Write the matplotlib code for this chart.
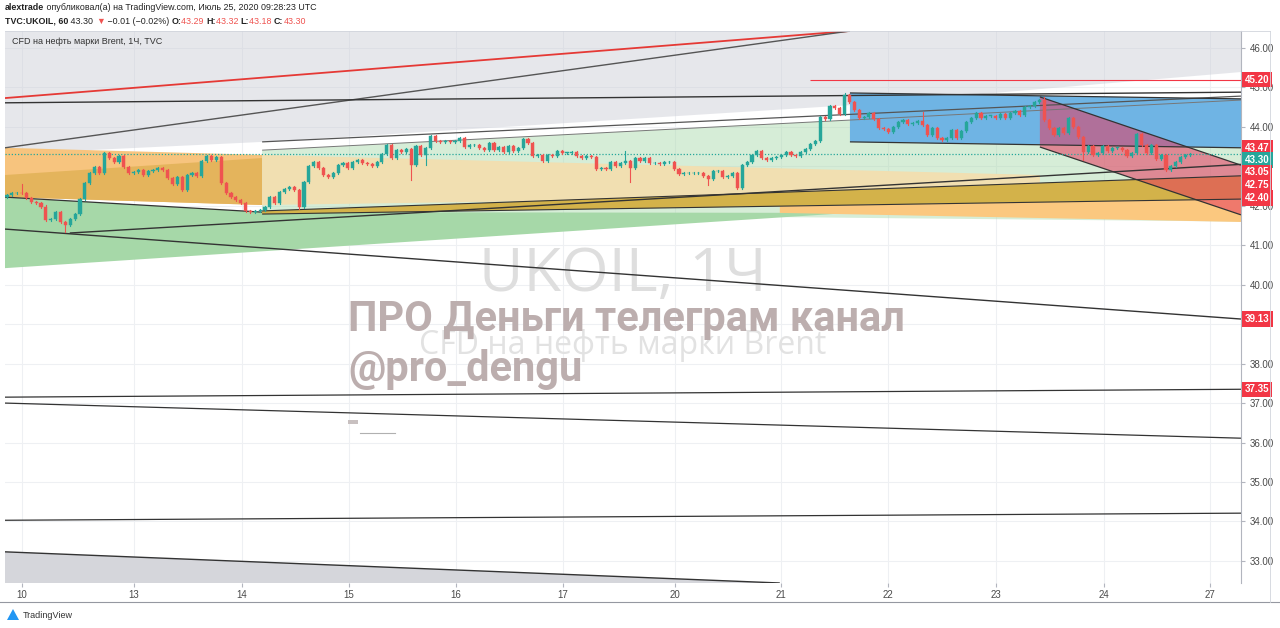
import matplotlib
matplotlib.use("Agg")
import matplotlib.pyplot as plt
from matplotlib.patches import Polygon, Rectangle

# ---------------- data ----------------
closes = [
    42.27, 42.32, 42.33, 42.32, 42.20, 42.10, 42.07, 41.98, 41.64, 41.67,
    41.84, 41.59, 41.51, 41.67, 41.79, 42.17, 42.58, 42.83, 42.98, 42.83,
    43.34, 43.21, 43.11, 43.26, 42.98, 42.83, 42.86, 42.91, 42.78, 42.88,
    42.91, 42.96, 42.91, 42.70, 42.55, 42.73, 42.40, 42.78, 42.83, 42.76,
    43.14, 43.26, 43.16, 43.24, 42.58, 42.32, 42.22, 42.15, 42.07, 41.87,
    41.84, 41.87, 41.89, 41.97, 42.22, 42.07, 42.35, 42.43, 42.48, 42.40,
    41.97, 42.60, 43.01, 43.11, 42.96, 42.78, 42.73, 42.83, 43.03, 43.08,
    42.96, 43.11, 43.16, 43.08, 43.06, 43.01, 43.11, 43.31, 43.54, 43.21,
    43.41, 43.36, 43.44, 43.03, 43.52, 43.29, 43.47, 43.77, 43.64, 43.62,
    43.64, 43.62, 43.64, 43.72, 43.49, 43.54, 43.54, 43.47, 43.41, 43.59,
    43.41, 43.49, 43.36, 43.52, 43.39, 43.47, 43.69, 43.59, 43.26, 43.29,
    43.14, 43.29, 43.26, 43.39, 43.34, 43.34, 43.36, 43.26, 43.21, 43.26,
    43.24, 42.93, 42.96, 42.93, 43.11, 43.01, 43.08, 43.14, 42.96, 43.21,
    43.14, 43.21, 43.08, 43.08, 43.06, 43.11, 43.11, 42.93, 42.81, 42.83,
    42.83, 42.83, 42.83, 42.76, 42.68, 42.88, 42.88, 42.73, 42.76, 42.83,
    42.45, 43.03, 43.11, 43.29, 43.39, 43.21, 43.16, 43.21, 43.24, 43.29,
    43.36, 43.29, 43.26, 43.36, 43.44, 43.57, 43.64, 44.25, 44.20, 44.53,
    44.48, 44.33, 44.81, 44.63, 44.43, 44.23, 44.25, 44.35, 44.20, 43.97,
    43.95, 43.87, 44.00, 44.12, 44.17, 44.07, 44.10, 44.15, 44.05, 43.79,
    43.97, 43.72, 43.67, 43.72, 43.92, 43.72, 43.90, 44.12, 44.23, 44.35,
    44.23, 44.28, 44.28, 44.23, 44.33, 44.23, 44.35, 44.40, 44.30, 44.50,
    44.53, 44.63, 44.68, 44.17, 43.97, 43.79, 43.97, 43.85, 44.23, 44.00,
    43.74, 43.36, 43.52, 43.29, 43.34, 43.52, 43.39, 43.47, 43.47, 43.41,
    43.26, 43.34, 43.82, 43.54, 43.34, 43.54, 43.19, 43.29, 42.91, 43.01,
    43.11, 43.24, 43.29, 43.30,
]
first_open = 42.22
# notable wick extremes: bar index -> (high, low)
wick_extremes = {
    3: (42.55, None), 11: (None, 41.56), 12: (None, 41.34), 60: (None, 41.92),
    83: (None, 42.65), 86: (None, 43.03), 127: (43.39, None), 128: (None, 42.60),
    144: (None, 42.53), 150: (None, 42.43), 172: (44.86, None), 188: (44.38, None),
    213: (44.76, None), 221: (None, 43.16),
}

day_labels = ["10", "13", "14", "15", "16", "17", "20", "21", "22", "23", "24", "27"]
day_bar_positions = [3.1, 26.1, 48.3, 70.2, 92.2, 114.2, 137.2, 158.9, 180.9, 203.1, 225.3, 247.0]

price_ticks = [33, 34, 35, 36, 37, 38, 39, 40, 41, 42, 43, 44, 45, 46]
hidden_tick_labels = [43, 39]
price_badges = [(45.20, "red"), (43.47, "red"), (43.30, "teal"), (43.05, "red"),
                (42.75, "red"), (42.40, "red"), (39.13, "red"), (37.35, "red")]
badge_offsets = {43.05: -0.20, 42.75: -0.22, 42.40: -0.20, 43.30: -0.14}

# drawings: (bar, price) vertices; fills are drawn with the given alpha
fills = [
    ("#c9cbd4", 0.45, [(-0.4, 46.43), (253.4, 46.43), (253.4, 45.39), (173.1, 44.55), (56.1, 43.64), (-0.4, 43.31)]),
    ("#a6d8a8", 0.45, [(52.4, 43.41), (253.4, 44.68), (253.4, 41.60), (52.4, 41.84)]),
    ("#a6d8a8", 1.0, [(-0.4, 42.22), (52.4, 41.84), (173.1, 41.82), (-0.4, 40.42)]),
    ("#f7c47e", 1.0, [(-0.4, 43.47), (52.4, 43.29), (52.4, 42.02), (-0.4, 42.22)]),
    ("#e4b45c", 1.0, [(-0.4, 42.78), (52.4, 43.21), (52.4, 42.02), (-0.4, 42.22)]),
    ("#f1dfb1", 1.0, [(52.4, 43.29), (212.1, 42.78), (212.1, 42.30), (52.4, 42.02)]),
    ("#d3b24a", 1.0, [(52.4, 41.87), (253.4, 42.76), (253.4, 42.17), (52.4, 41.79)]),
    ("#fbc87f", 1.0, [(158.7, 41.99), (253.4, 42.17), (253.4, 41.59), (158.7, 41.82)]),
    ("#6fb4e4", 1.0, [(173.1, 44.86), (253.4, 44.71), (253.4, 43.47), (173.1, 43.62)]),
    ("#e6385e", 0.55, [(212.1, 44.76), (253.4, 43.03), (253.4, 41.77), (212.1, 43.49)]),
    ("#d5d6db", 1.0, [(-0.4, 33.23), (158.7, 32.44), (-0.4, 32.44)]),
]
lines = [
    ("#e53935", 1.3, [(-0.4, 44.73), (173.1, 46.43)]),
    ("#555555", 1.0, [(-0.4, 43.47), (173.1, 46.43)]),
    ("#333333", 1.0, [(-0.4, 44.61), (253.4, 44.88)]),
    ("#555555", 0.9, [(52.4, 43.62), (253.4, 44.78)]),
    ("#777777", 0.7, [(52.4, 43.41), (253.4, 44.68)]),
    ("#f23645", 0.8, [(164.9, 45.20), (253.4, 45.20)]),
    ("#333333", 1.0, [(-0.4, 41.41), (253.4, 39.13)]),
    ("#333333", 0.9, [(-0.4, 37.15), (253.4, 37.35)]),
    ("#333333", 0.9, [(-0.4, 37.00), (253.4, 36.11)]),
    ("#333333", 0.9, [(-0.4, 34.03), (253.4, 34.21)]),
    ("#333333", 1.0, [(-0.4, 33.23), (158.7, 32.44)]),
    ("#333333", 1.0, [(12.9, 41.31), (253.4, 43.05)]),
    ("#333333", 0.9, [(-0.4, 42.22), (52.4, 41.84)]),
    ("#333333", 0.8, [(52.4, 41.87), (253.4, 42.76)]),
    ("#333333", 0.8, [(52.4, 41.79), (253.4, 42.17)]),
    ("#333333", 0.9, [(173.1, 44.86), (253.4, 44.71)]),
    ("#333333", 0.9, [(173.1, 43.62), (253.4, 43.47)]),
    ("#333333", 0.9, [(212.1, 44.76), (253.4, 43.03)]),
    ("#333333", 0.9, [(212.1, 43.49), (253.4, 41.77)]),
]

# ---------------- figure ----------------
W, H = 1280, 628
FONT = "Liberation Sans"
fig = plt.figure(figsize=(W / 100, H / 100), dpi=100)
fig.patch.set_facecolor("white")
ax = fig.add_axes([5 / W, 1 - 583 / H, 1236 / W, 552 / H])
ax.set_xlim(-0.4, 253.4)
ax.set_ylim(32.44, 46.43)
ax.set_facecolor("white")

for t in price_ticks:
    ax.axhline(t, color="#eef0f3", lw=0.8, zorder=0)
for p in day_bar_positions:
    ax.axvline(p, color="#eef0f3", lw=0.8, zorder=0)

# big watermarks (behind drawings)
ax.text(0.5, 0.558, "UKOIL, 1Ч", transform=ax.transAxes, ha="center", va="center",
        fontsize=44, color="#dedede", family="Open Sans", zorder=0.5)
ax.text(0.5, 0.431, "CFD на нефть марки Brent", transform=ax.transAxes, ha="center",
        va="center", fontsize=23, color="#e2e2e2", family="Open Sans", zorder=0.5)

for col, a, pts in fills:
    ax.add_patch(Polygon(pts, closed=True, facecolor=col, alpha=a, edgecolor="none", zorder=1))
for col, lw, pts in lines:
    xs, ys = zip(*pts)
    ax.plot(xs, ys, color=col, lw=lw, zorder=2, solid_capstyle="butt")

# current price dotted line
ax.axhline(closes[-1], color="#26a69a", lw=0.9, ls=(0, (1, 1.5)), zorder=3)

# candles
opens = [first_open] + closes[:-1]
for i, (o, c) in enumerate(zip(opens, closes)):
    up = c >= o
    col = "#26a69a" if up else "#ef5350"
    hi = max(o, c) + 0.03
    lo = min(o, c) - 0.03
    if i in wick_extremes:
        h, l = wick_extremes[i]
        if h is not None:
            hi = h
        if l is not None:
            lo = l
    ax.plot([i, i], [lo, hi], color=col, lw=0.8, zorder=4)
    bh = max(abs(c - o), 0.012)
    ax.add_patch(Rectangle((i - 0.32, min(o, c)), 0.64, bh, facecolor=col, edgecolor=col, lw=0.3, zorder=5))

# axes styling
for s in ["top", "left", "bottom"]:
    ax.spines[s].set_visible(False)
ax.spines["right"].set_color("#b2b5be")
ax.yaxis.tick_right()
ax.set_yticks(price_ticks)
ax.set_yticklabels(["" if t in hidden_tick_labels else f"{t:.2f}" for t in price_ticks],
                   fontsize=7, color="#4a4a4a", family=FONT)
ax.tick_params(axis="y", length=3, color="#b2b5be", pad=3)
ax.set_xticks(day_bar_positions)
ax.set_xticklabels(day_labels, fontsize=7, color="#4a4a4a", family=FONT)
ax.tick_params(axis="x", length=3, color="#b2b5be", pad=2)

# price badges
for val, kind in price_badges:
    yv = val + badge_offsets.get(val, 0.0)
    col = "#26a69a" if kind == "teal" else "#f23645"
    ax.annotate(f"{val:.2f}", xy=(1.0, yv), xycoords=("axes fraction", "data"),
                xytext=(3, 0), textcoords="offset points", ha="left", va="center",
                fontsize=7, color="white", fontweight="bold", family=FONT,
                bbox=dict(boxstyle="square,pad=0.28", fc=col, ec="none"), zorder=10,
                annotation_clip=False)

# overlay caption texts
fig.text(348 / W, 1 - 320 / H, "ПРО Деньги телеграм канал", ha="left", va="center",
         fontsize=30, color="#bcaeae", fontweight="bold", family="Roboto", zorder=7)
fig.text(348 / W, 1 - 369 / H, "@pro_dengu", ha="left", va="center",
         fontsize=30, color="#bcaeae", fontweight="bold", family="Roboto", zorder=7)
fig.add_artist(Rectangle((348 / W, 1 - 424 / H), 10 / W, 4 / H, transform=fig.transFigure,
                         facecolor="#c8c0c0", edgecolor="none"))
fig.add_artist(plt.Line2D([360 / W, 395 / W], [1 - 433 / H, 1 - 433 / H], transform=fig.transFigure,
                          color="#b0b0b0", lw=0.8))

# legend text in chart
ax.text(7 / 1236, 1 - 11 / 552, "CFD на нефть марки Brent, 1Ч, TVC", transform=ax.transAxes,
        ha="left", va="center", fontsize=6.5, color="#333333", family=FONT, zorder=8)

# header (runs of text placed one after another)
fig.canvas.draw()
renderer = fig.canvas.get_renderer()


def text_run(parts, y, x0=5):
    hx = x0
    for txt, col, wt in parts:
        t = fig.text(hx / W, 1 - y / H, txt, ha="left", va="center", fontsize=6.4,
                     color=col, fontweight=wt, family=FONT)
        hx += t.get_window_extent(renderer=renderer).width


text_run([("alextrade", "#222", "bold"),
          (" опубликовал(а) на TradingView.com, Июль 25, 2020 09:28:23 UTC", "#222", "normal")], 8)
text_run([("TVC:UKOIL, 60", "#222", "bold"), (" 43.30 ", "#222", "normal"), ("▼", "#ef5350", "normal"),
          (" −0.01 (−0.02%) ", "#222", "normal"), ("O:", "#222", "bold"), ("43.29 ", "#ef5350", "normal"),
          ("H:", "#222", "bold"), ("43.32 ", "#ef5350", "normal"), ("L:", "#222", "bold"),
          ("43.18 ", "#ef5350", "normal"), ("C:", "#222", "bold"), ("43.30", "#ef5350", "normal")], 21)

# frame lines & logo
fig.add_artist(plt.Line2D([0, 1], [1 - 602 / H] * 2, transform=fig.transFigure, color="#9598a1", lw=0.8))
fig.add_artist(plt.Line2D([1270 / W] * 2, [1 - 602 / H, 1 - 31 / H], transform=fig.transFigure, color="#d1d4dc", lw=0.6))
fig.add_artist(plt.Line2D([5 / W, 1270 / W], [1 - 31 / H] * 2, transform=fig.transFigure, color="#d1d4dc", lw=0.6))
fig.add_artist(Polygon([[7 / W, 1 - 620 / H], [13 / W, 1 - 609 / H], [19 / W, 1 - 620 / H]],
                       closed=True, transform=fig.transFigure, facecolor="#2196f3", edgecolor="none"))
fig.text(23 / W, 1 - 615 / H, "TradingView", ha="left", va="center", fontsize=6.5, color="#333", family=FONT)

fig.savefig("out.png", dpi=100, facecolor="white")
